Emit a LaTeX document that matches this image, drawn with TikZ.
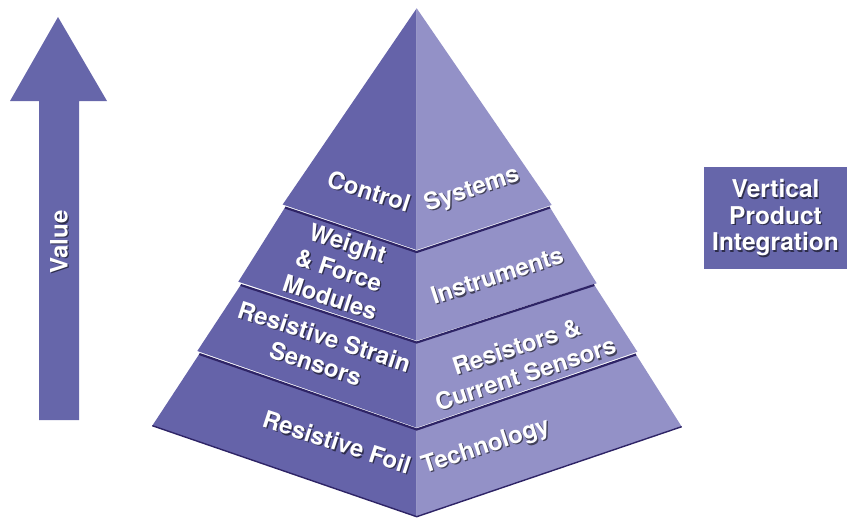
\documentclass[tikz,border=0pt]{standalone}
\usepackage{fontspec}
\setmainfont{TeX Gyre Heros}
\usetikzlibrary{positioning}

\definecolor{facedark}{RGB}{101,99,169}
\definecolor{facelight}{RGB}{147,145,199}
\definecolor{edgedark}{RGB}{46,36,102}
\definecolor{valuecol}{RGB}{102,102,170}

% white text with a soft dark copy behind it
\newcommand{\shlabel}[4]{%
  \node[lbl, txtshadow, xshift=1.3pt, yshift=-1.3pt, rotate=#3] at (#2) {#4};
  \node[lbl, rotate=#3] (#1) at (#2) {#4};
}

\begin{document}
\begin{tikzpicture}[x=1pt, y=-1pt]
            \tikzstyle{lbl}=[text=white, align=center, inner sep=0pt,
                             font=\fontsize{24}{28.5}\selectfont\bfseries]
            \tikzstyle{txtshadow}=[text=black, text opacity=0.55]
            \tikzstyle{sep}=[draw=edgedark, line width=2.2pt, line join=round]

            \useasboundingbox (0,0) rectangle (851,519);

            % value arrow
            \fill[valuecol] (39,420) -- (39,101) -- (10,101) -- (58,17)
                            -- (107,101) -- (79,101) -- (79,420) -- cycle;
            \node[lbl, txtshadow, font=\fontsize{24}{28}\selectfont\bfseries,
                  xshift=1.3pt, yshift=-1.3pt, rotate=90] at (59,242) {Value};
            \node[lbl, font=\fontsize{24}{28}\selectfont\bfseries, rotate=90]
                  (value) at (59,242) {Value};

            % pyramid corners
            \coordinate (apex) at (416.7,8.3);
            \coordinate (t1bl) at (282.7,204.5);
            \coordinate (t1bc) at (416.7,250);
            \coordinate (t1br) at (551.7,205);

            \coordinate (t2tl) at (285,207.5);
            \coordinate (t2tc) at (416.7,252);
            \coordinate (t2tr) at (550,207.5);
            \coordinate (t2bl) at (238.3,281.7);
            \coordinate (t2bc) at (416.7,340.7);
            \coordinate (t2br) at (596.7,283.3);

            \coordinate (t3tl) at (240.7,285);
            \coordinate (t3tc) at (416.7,342.5);
            \coordinate (t3tr) at (594.3,285);
            \coordinate (t3bl) at (197.3,351);
            \coordinate (t3bc) at (416.7,427.7);
            \coordinate (t3br) at (637.3,351.7);

            \coordinate (t4tl) at (199.3,354);
            \coordinate (t4tc) at (416.7,429.5);
            \coordinate (t4tr) at (636,354.5);
            \coordinate (t4bl) at (152.3,425.7);
            \coordinate (t4bc) at (416.7,516.7);
            \coordinate (t4br) at (681.7,426.7);

            % faces
            \fill[facedark] (apex) -- (t1bl) -- (t1bc) -- cycle;
            \fill[facelight] (apex) -- (t1bc) -- (t1br) -- cycle;
            \foreach \t in {2,3,4} {
                \fill[facedark] (t\t tl) -- (t\t bl) -- (t\t bc) -- (t\t tc) -- cycle;
                \fill[facelight] (t\t tc) -- (t\t bc) -- (t\t br) -- (t\t tr) -- cycle;
                \draw[sep] (t\t tl) -- (t\t tc) -- (t\t tr);
            }
            \draw[sep, line width=1.4pt] (t4bl) -- (t4bc) -- (t4br);

            % labels
            \shlabel{ctrl}{369,191}{-18}{Control}
            \shlabel{sys}{472,190}{18}{Systems}
            \shlabel{wfm}{339,270}{-18}{Weight\\\& Force\\Modules}
            \shlabel{instr}{497,275}{18}{Instruments}
            \shlabel{rss}{320,350}{-18}{Resistive Strain\\Sensors}
            \shlabel{rcs}{521,360}{18}{Resistors \&\\Current Sensors}
            \shlabel{rfoil}{337,442}{-18}{Resistive Foil}
            \shlabel{tech}{486,447}{18}{Technology}

            % side box
            \node[fill=valuecol, minimum width=143pt, minimum height=102pt,
                  inner sep=0pt] (vpi) at (775.5,218) {};
            \node[lbl, txtshadow, font=\fontsize{24.5}{26.5}\selectfont\bfseries,
                  xshift=1.3pt, yshift=-1.3pt] at (vpi) {Vertical\\Product\\Integration};
            \node[lbl, font=\fontsize{24.5}{26.5}\selectfont\bfseries]
                  (vpitext) at (vpi) {Vertical\\Product\\Integration};

          \end{tikzpicture}
\end{document}
